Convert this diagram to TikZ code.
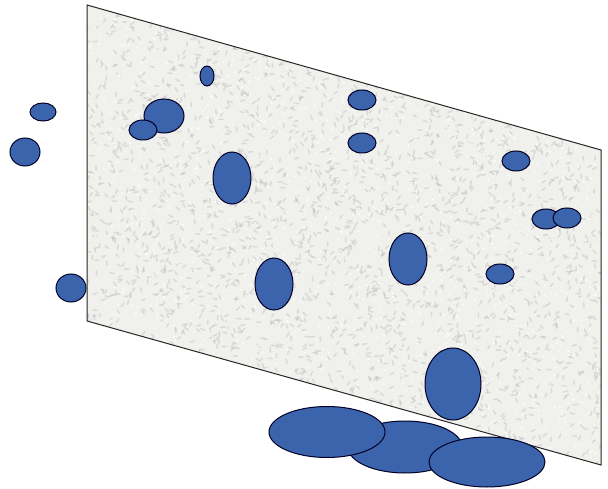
\documentclass[tikz,border=0pt]{standalone}
\begin{document}
\begin{tikzpicture}[x=1pt,y=-1pt,
  blob/.style={fill=blobblue,draw=black!85!blue,line width=1pt},
  sheet/.style={draw=black!85,line width=1pt}]
\definecolor{blobblue}{RGB}{59,100,173}
\definecolor{paper}{RGB}{240,240,237}
\useasboundingbox (0,0) rectangle (608,489);
% textured sheet
\fill[paper] (87,5) -- (601,150) -- (601,465) -- (87,321) -- cycle;
\begin{scope}
\clip (87,5) -- (601,150) -- (601,465) -- (87,321) -- cycle;
\pgfmathsetseed{7}
\foreach \i in {1,...,3200}{
  \pgfmathsetmacro{\px}{87+514*rnd}
  \pgfmathsetmacro{\py}{5+460*rnd}
  \pgfmathsetmacro{\ang}{360*rnd}
  \fill[gray!60,opacity=0.35,rotate around={\ang:(\px,\py)}] (\px,\py) ellipse [x radius=3, y radius=0.9];
}
\foreach \i in {1,...,1800}{
  \pgfmathsetmacro{\px}{87+514*rnd}
  \pgfmathsetmacro{\py}{5+460*rnd}
  \fill[white,opacity=0.7] (\px,\py) circle (1.2);
}
\end{scope}
\draw[sheet] (87,5) -- (601,150) -- (601,465) -- (87,321) -- cycle;
% blobs outside left
\draw[blob] (43,112) ellipse [x radius=13, y radius=9];
\draw[blob] (25,152) ellipse [x radius=15, y radius=14];
\draw[blob] (71,288) ellipse [x radius=15, y radius=14];
% blobs on sheet
\draw[blob] (207,76) ellipse [x radius=7, y radius=10];
\draw[blob] (164,116) ellipse [x radius=20, y radius=17];
\draw[blob] (143,130) ellipse [x radius=14, y radius=10];
\draw[blob] (232,178) ellipse [x radius=19, y radius=26];
\draw[blob] (362,100) ellipse [x radius=14, y radius=10];
\draw[blob] (362,143) ellipse [x radius=14, y radius=10];
\draw[blob] (516,161) ellipse [x radius=14, y radius=10];
\draw[blob] (546,219) ellipse [x radius=14, y radius=10];
\draw[blob] (567,218) ellipse [x radius=14, y radius=10];
\draw[blob] (274,284) ellipse [x radius=19, y radius=26];
\draw[blob] (408,259) ellipse [x radius=19, y radius=26];
\draw[blob] (500,274) ellipse [x radius=14, y radius=10];
\draw[blob] (453,384) ellipse [x radius=28, y radius=36];
% blobs below
\draw[blob] (405,447) ellipse [x radius=57, y radius=26];
\draw[blob] (327,432) ellipse [x radius=58, y radius=25.5];
\draw[blob] (487,462) ellipse [x radius=58, y radius=25];
\end{tikzpicture}
\end{document}
